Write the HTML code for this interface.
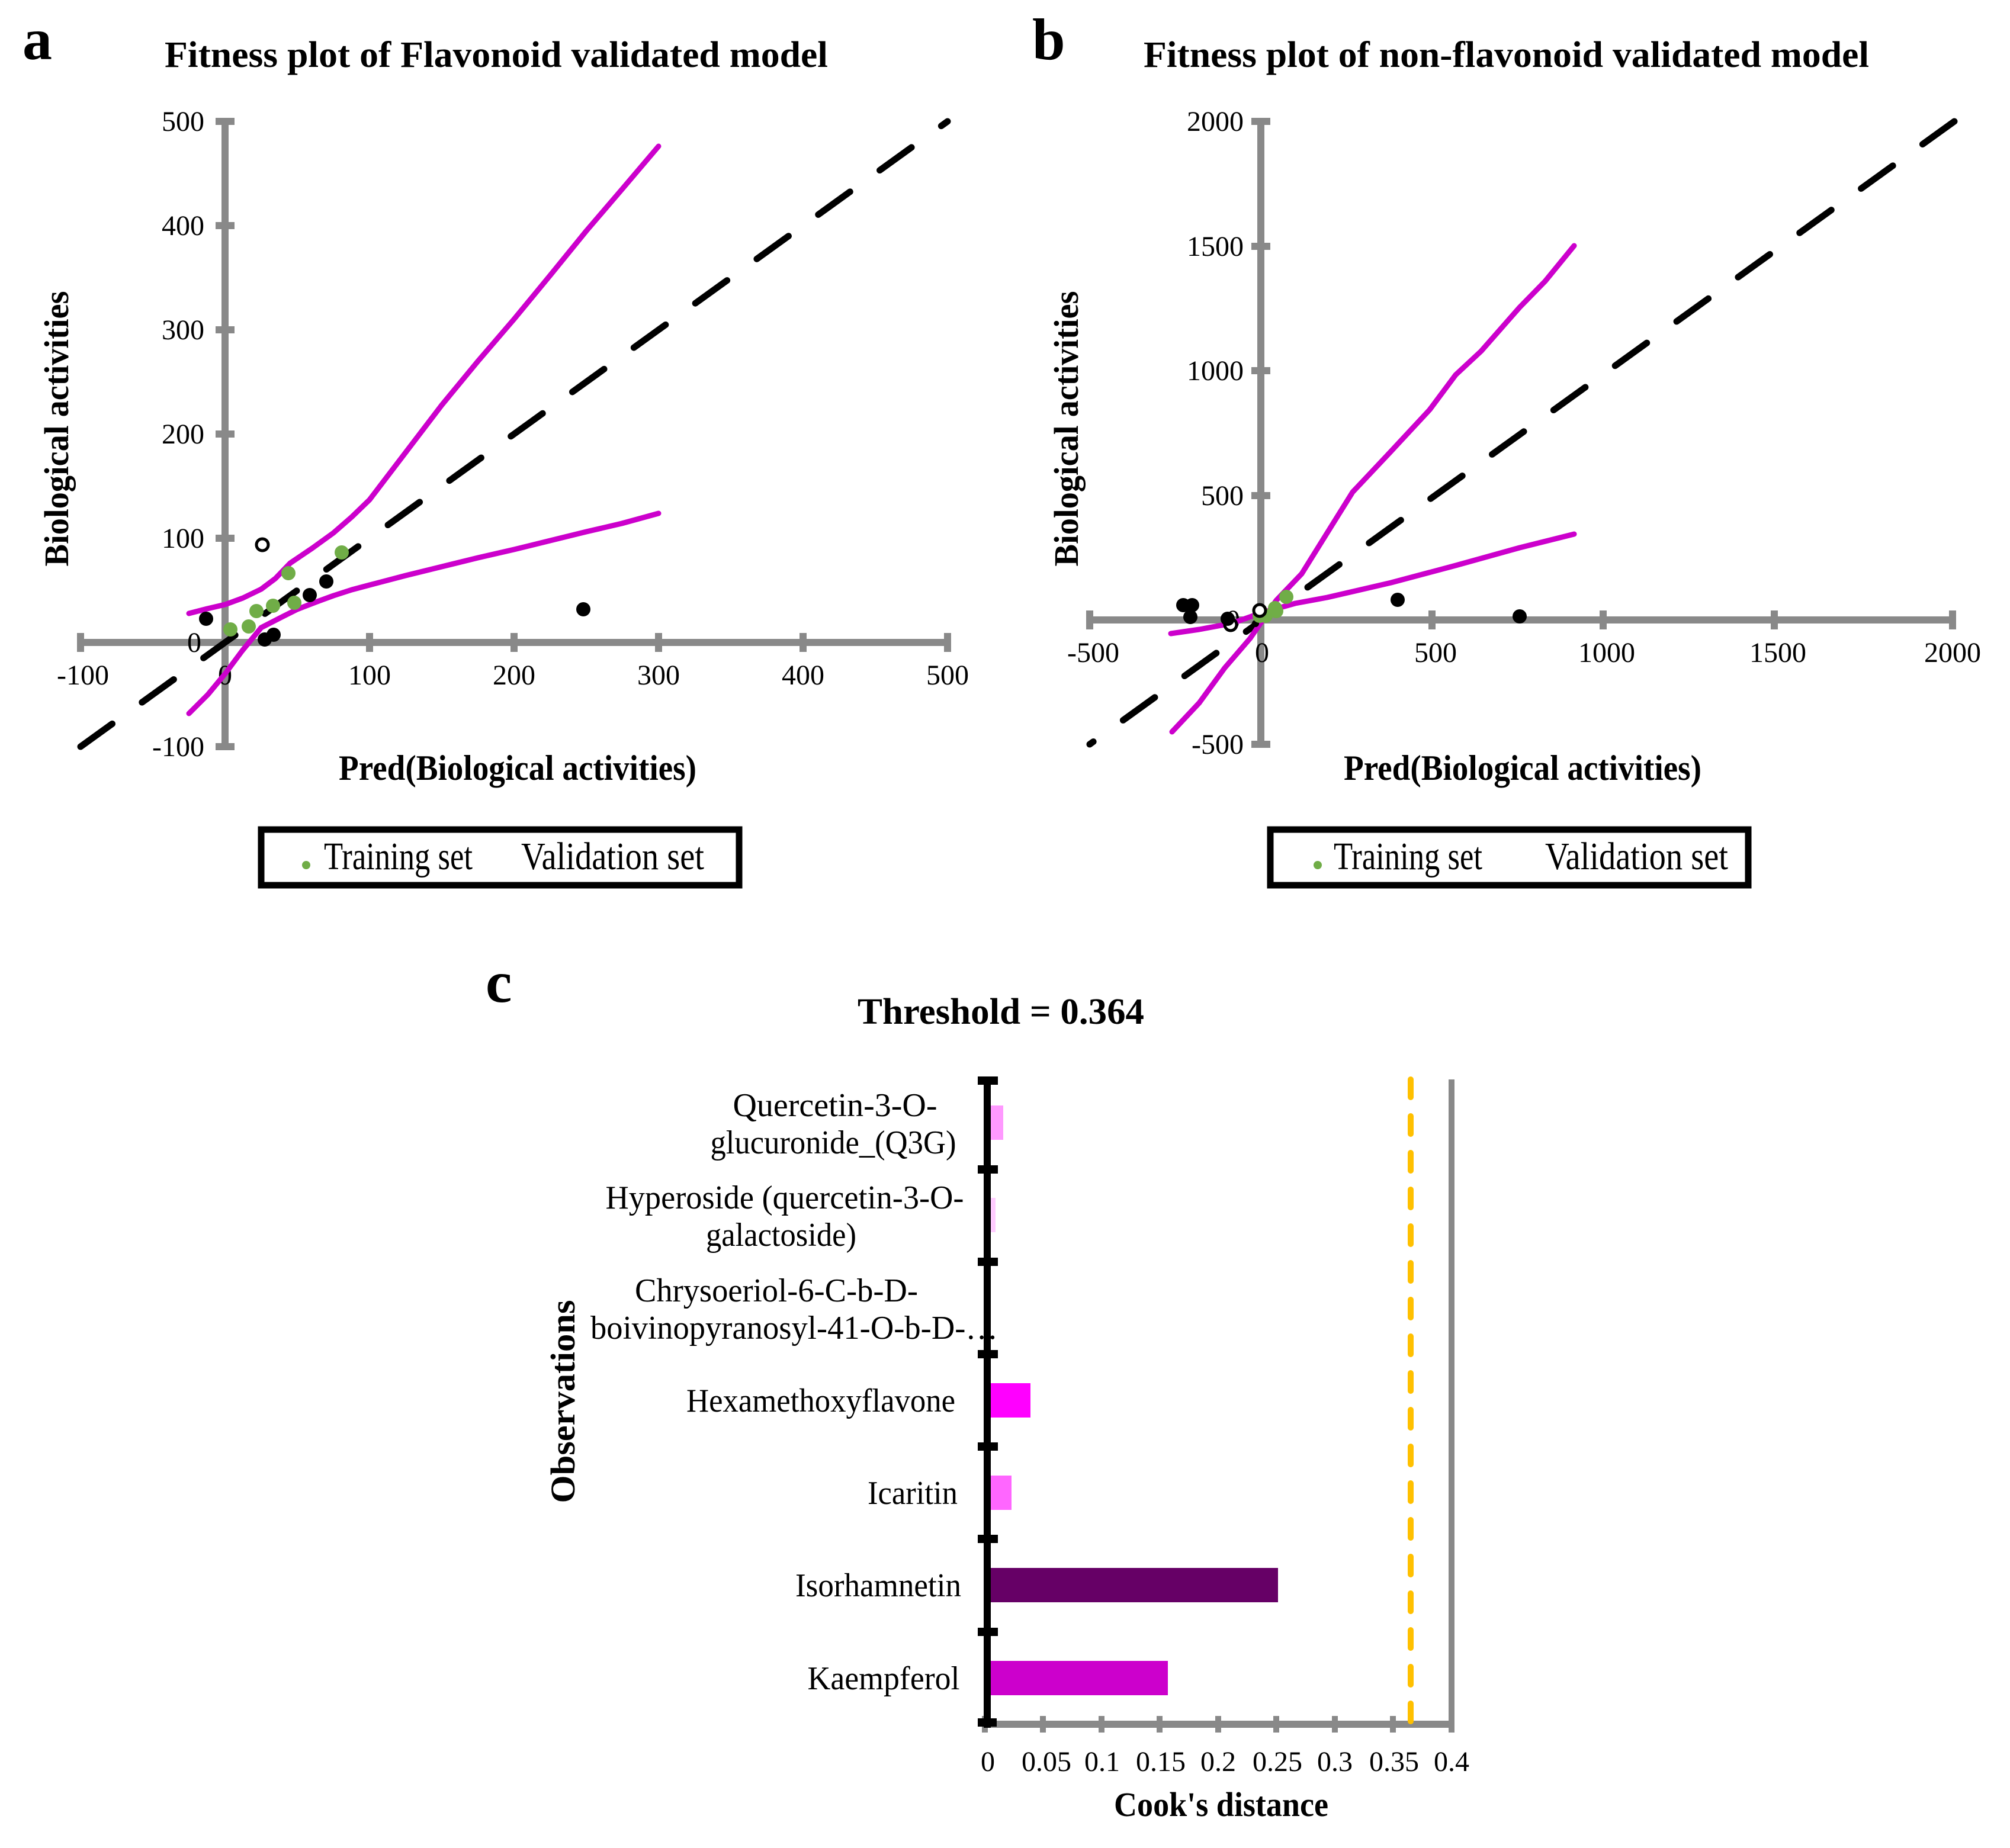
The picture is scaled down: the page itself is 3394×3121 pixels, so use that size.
<!DOCTYPE html>
<html><head><meta charset="utf-8"><style>
html,body{margin:0;padding:0;background:#fff}
svg{display:block}
text{font-family:"Liberation Serif",serif;fill:#000}
.b{font-weight:bold}
</style></head><body>
<svg width="3394" height="3121" viewBox="0 0 3394 3121" xmlns="http://www.w3.org/2000/svg">
<rect width="3394" height="3121" fill="#fff"/>

<!-- ===== Panel a ===== -->
<text x="38" y="100" class="b" font-size="100">a</text>
<text x="278" y="113" class="b" font-size="62" textLength="1120" lengthAdjust="spacingAndGlyphs">Fitness plot of Flavonoid validated model</text>
<g stroke="#898989" stroke-width="12" fill="none">
<line x1="136" y1="1085" x2="1600" y2="1085"/>
<line x1="380" y1="205" x2="380" y2="1261"/>
</g>
<g stroke="#898989" stroke-width="12">
<line x1="136" y1="1069" x2="136" y2="1101"/><line x1="380" y1="1069" x2="380" y2="1101"/><line x1="624" y1="1069" x2="624" y2="1101"/><line x1="868" y1="1069" x2="868" y2="1101"/><line x1="1112" y1="1069" x2="1112" y2="1101"/><line x1="1356" y1="1069" x2="1356" y2="1101"/><line x1="1600" y1="1069" x2="1600" y2="1101"/>
<line x1="364" y1="205" x2="396" y2="205"/><line x1="364" y1="381" x2="396" y2="381"/><line x1="364" y1="557" x2="396" y2="557"/><line x1="364" y1="733" x2="396" y2="733"/><line x1="364" y1="909" x2="396" y2="909"/><line x1="364" y1="1261" x2="396" y2="1261"/>
</g>
<g font-size="48" text-anchor="end">
<text x="345" y="221">500</text><text x="345" y="397">400</text><text x="345" y="573">300</text><text x="345" y="749">200</text><text x="345" y="925">100</text><text x="340" y="1101">0</text><text x="345" y="1277">-100</text>
</g>
<g font-size="48" text-anchor="middle">
<text x="140" y="1156">-100</text><text x="380" y="1156">0</text><text x="624" y="1156">100</text><text x="868" y="1156">200</text><text x="1112" y="1156">300</text><text x="1356" y="1156">400</text><text x="1600" y="1156">500</text>
</g>
<text transform="translate(115,724) rotate(-90)" text-anchor="middle" class="b" font-size="58" textLength="465" lengthAdjust="spacingAndGlyphs">Biological activities</text>
<text x="874" y="1317" text-anchor="middle" class="b" font-size="60" textLength="604" lengthAdjust="spacingAndGlyphs">Pred(Biological activities)</text>
<line x1="136" y1="1261" x2="1600" y2="205" stroke="#000" stroke-width="11" stroke-linecap="round" stroke-dasharray="66 62"/>
<g fill="none" stroke="#cc00cc" stroke-width="9" stroke-linejoin="round" stroke-linecap="round">
<polyline points="319,1036 350,1028 380,1021 410,1010 441,995 465,977 490,951 527,926 563,900 594,873 624,844 685,764 746,684 807,610 868,539 929,465 990,390 1050,320 1112,247"/>
<polyline points="319,1205 351,1173 380,1138 409,1099 441,1060 478,1041 502,1029 533,1017 563,1006 594,996 624,988 685,972 746,957 807,942 868,928 929,913 990,898 1050,884 1112,867"/>
</g>
<g fill="#000">
<circle cx="348" cy="1045" r="12"/><circle cx="447" cy="1080" r="12"/><circle cx="462" cy="1072" r="12"/><circle cx="523" cy="1005" r="12"/><circle cx="551" cy="982" r="12"/><circle cx="985" cy="1029" r="12"/>
</g>
<circle cx="443" cy="920" r="10" fill="#fff" stroke="#000" stroke-width="5"/>
<g fill="#70ad47">
<circle cx="389" cy="1063" r="12"/><circle cx="420" cy="1058" r="12"/><circle cx="433" cy="1032" r="12"/><circle cx="461" cy="1023" r="12"/><circle cx="497" cy="1018" r="12"/><circle cx="487" cy="968" r="12"/><circle cx="577" cy="933" r="12"/>
</g>
<rect x="441" y="1401" width="807" height="94" fill="#fff" stroke="#000" stroke-width="11"/>
<circle cx="517" cy="1461" r="7" fill="#70ad47"/>
<text x="547" y="1468" font-size="66" textLength="251" lengthAdjust="spacingAndGlyphs">Training set</text>
<text x="880" y="1468" font-size="66" textLength="309" lengthAdjust="spacingAndGlyphs">Validation set</text>

<!-- ===== Panel b ===== -->
<text x="1743" y="100" class="b" font-size="100">b</text>
<text x="1931" y="113" class="b" font-size="62" textLength="1225" lengthAdjust="spacingAndGlyphs">Fitness plot of non-flavonoid validated model</text>
<g stroke="#898989" stroke-width="12" fill="none">
<line x1="1840" y1="1047" x2="3300" y2="1047"/>
<line x1="2129" y1="205" x2="2129" y2="1257"/>
</g>
<g stroke="#898989" stroke-width="12">
<line x1="1840" y1="1031" x2="1840" y2="1063"/><line x1="2129" y1="1031" x2="2129" y2="1063"/><line x1="2418" y1="1031" x2="2418" y2="1063"/><line x1="2707" y1="1031" x2="2707" y2="1063"/><line x1="2996" y1="1031" x2="2996" y2="1063"/><line x1="3297" y1="1031" x2="3297" y2="1063"/>
<line x1="2113" y1="205" x2="2145" y2="205"/><line x1="2113" y1="416" x2="2145" y2="416"/><line x1="2113" y1="626" x2="2145" y2="626"/><line x1="2113" y1="837" x2="2145" y2="837"/><line x1="2113" y1="1257" x2="2145" y2="1257"/>
</g>
<g font-size="48" text-anchor="end">
<text x="2100" y="221">2000</text><text x="2100" y="432">1500</text><text x="2100" y="642">1000</text><text x="2100" y="853">500</text><text x="2094" y="1063">0</text><text x="2100" y="1273">-500</text>
</g>
<g font-size="48" text-anchor="middle">
<text x="1846" y="1118">-500</text><text x="2131" y="1118">0</text><text x="2424" y="1118">500</text><text x="2713" y="1118">1000</text><text x="3002" y="1118">1500</text><text x="3297" y="1118">2000</text>
</g>
<text transform="translate(1820,724) rotate(-90)" text-anchor="middle" class="b" font-size="58" textLength="465" lengthAdjust="spacingAndGlyphs">Biological activities</text>
<text x="2571" y="1317" text-anchor="middle" class="b" font-size="60" textLength="604" lengthAdjust="spacingAndGlyphs">Pred(Biological activities)</text>
<line x1="3300" y1="205" x2="1840" y2="1257" stroke="#000" stroke-width="11" stroke-linecap="round" stroke-dasharray="66 62"/>
<g fill="none" stroke="#cc00cc" stroke-width="9" stroke-linejoin="round" stroke-linecap="round">
<polyline points="1979,1236 2025,1187 2068,1128 2111,1078 2155,1014 2198,969 2241,900 2284,831 2349,762 2414,692 2458,633 2501,593 2566,519 2609,475 2658,415"/>
<polyline points="1977,1070 2025,1063 2079,1053 2133,1034 2187,1019 2241,1009 2349,984 2458,955 2566,925 2658,902"/>
</g>
<circle cx="2078" cy="1055" r="10" fill="#fff" stroke="#000" stroke-width="5"/>
<g fill="#000">
<circle cx="1998" cy="1022" r="12"/><circle cx="2013" cy="1022" r="12"/><circle cx="2010" cy="1042" r="12"/><circle cx="2073" cy="1045" r="12"/><circle cx="2360" cy="1013" r="12"/><circle cx="2566" cy="1041" r="12"/><circle cx="2120" cy="1053" r="6"/>
</g>
<g fill="#70ad47">
<circle cx="2127" cy="1040" r="12"/><circle cx="2137" cy="1040" r="12"/><circle cx="2155" cy="1032" r="12"/><circle cx="2153" cy="1027" r="12"/><circle cx="2172" cy="1008" r="12"/>
</g>
<circle cx="2127" cy="1031" r="10" fill="#fff" stroke="#000" stroke-width="5"/>
<rect x="2145" y="1401" width="807" height="94" fill="#fff" stroke="#000" stroke-width="11"/>
<circle cx="2225" cy="1461" r="7" fill="#70ad47"/>
<text x="2252" y="1468" font-size="66" textLength="251" lengthAdjust="spacingAndGlyphs">Training set</text>
<text x="2609" y="1468" font-size="66" textLength="309" lengthAdjust="spacingAndGlyphs">Validation set</text>

<!-- ===== Panel c ===== -->
<text x="820" y="1692" class="b" font-size="100">c</text>
<text x="1448" y="1729" class="b" font-size="62" textLength="484" lengthAdjust="spacingAndGlyphs">Threshold = 0.364</text>
<rect x="1663" y="1867" width="31" height="58" fill="#ff99ff"/>
<rect x="1663" y="2023" width="18" height="58" fill="#ffccff"/>
<rect x="1663" y="2180" width="8" height="58" fill="#000"/>
<rect x="1663" y="2336" width="77" height="58" fill="#ff00ff"/>
<rect x="1663" y="2492" width="45" height="58" fill="#ff66ff"/>
<rect x="1663" y="2648" width="495" height="58" fill="#660066"/>
<rect x="1663" y="2805" width="309" height="58" fill="#cc00cc"/>
<line x1="2451" y1="1823" x2="2451" y2="2926" stroke="#898989" stroke-width="10"/>
<line x1="1663" y1="2912" x2="2451" y2="2912" stroke="#898989" stroke-width="12"/>
<g stroke="#898989" stroke-width="10">
<line x1="1663" y1="2898" x2="1663" y2="2926"/><line x1="1761" y1="2898" x2="1761" y2="2926"/><line x1="1860" y1="2898" x2="1860" y2="2926"/><line x1="1958" y1="2898" x2="1958" y2="2926"/><line x1="2057" y1="2898" x2="2057" y2="2926"/><line x1="2155" y1="2898" x2="2155" y2="2926"/><line x1="2254" y1="2898" x2="2254" y2="2926"/><line x1="2352" y1="2898" x2="2352" y2="2926"/>
</g>
<line x1="2382" y1="1823" x2="2382" y2="2910" stroke="#ffc000" stroke-width="10" stroke-linecap="round" stroke-dasharray="30 32"/>
<line x1="1667" y1="1818" x2="1667" y2="2918" stroke="#000" stroke-width="12"/>
<g stroke="#000" stroke-width="14">
<line x1="1651" y1="1825" x2="1685" y2="1825"/><line x1="1651" y1="1975" x2="1685" y2="1975"/><line x1="1651" y1="2131" x2="1685" y2="2131"/><line x1="1651" y1="2287" x2="1685" y2="2287"/><line x1="1651" y1="2443" x2="1685" y2="2443"/><line x1="1651" y1="2599" x2="1685" y2="2599"/><line x1="1651" y1="2756" x2="1685" y2="2756"/><line x1="1651" y1="2909" x2="1683" y2="2909"/>
</g>
<g font-size="48" text-anchor="middle">
<text x="1668" y="2991">0</text><text x="1767" y="2991">0.05</text><text x="1861" y="2991">0.1</text><text x="1960" y="2991">0.15</text><text x="2057" y="2991">0.2</text><text x="2157" y="2991">0.25</text><text x="2254" y="2991">0.3</text><text x="2354" y="2991">0.35</text><text x="2451" y="2991">0.4</text>
</g>
<text x="2062" y="3067" text-anchor="middle" class="b" font-size="58" textLength="362" lengthAdjust="spacingAndGlyphs">Cook's distance</text>
<text transform="translate(970,2367) rotate(-90)" text-anchor="middle" class="b" font-size="58" textLength="343" lengthAdjust="spacingAndGlyphs">Observations</text>
<g font-size="56" text-anchor="middle">
<text x="1410" y="1885" textLength="345" lengthAdjust="spacingAndGlyphs">Quercetin-3-O-</text>
<text x="1407" y="1948" textLength="415" lengthAdjust="spacingAndGlyphs">glucuronide_(Q3G)</text>
<text x="1325" y="2041" textLength="605" lengthAdjust="spacingAndGlyphs">Hyperoside (quercetin-3-O-</text>
<text x="1319" y="2104" textLength="254" lengthAdjust="spacingAndGlyphs">galactoside)</text>
<text x="1311" y="2198" textLength="478" lengthAdjust="spacingAndGlyphs">Chrysoeriol-6-C-b-D-</text>
<text x="1341" y="2261" textLength="688" lengthAdjust="spacingAndGlyphs">boivinopyranosyl-41-O-b-D-…</text>
<text x="1386" y="2384" textLength="454" lengthAdjust="spacingAndGlyphs">Hexamethoxyflavone</text>
<text x="1541" y="2540" textLength="152" lengthAdjust="spacingAndGlyphs">Icaritin</text>
<text x="1483" y="2696" textLength="280" lengthAdjust="spacingAndGlyphs">Isorhamnetin</text>
<text x="1492" y="2853" textLength="257" lengthAdjust="spacingAndGlyphs">Kaempferol</text>
</g>
</svg>
</body></html>
